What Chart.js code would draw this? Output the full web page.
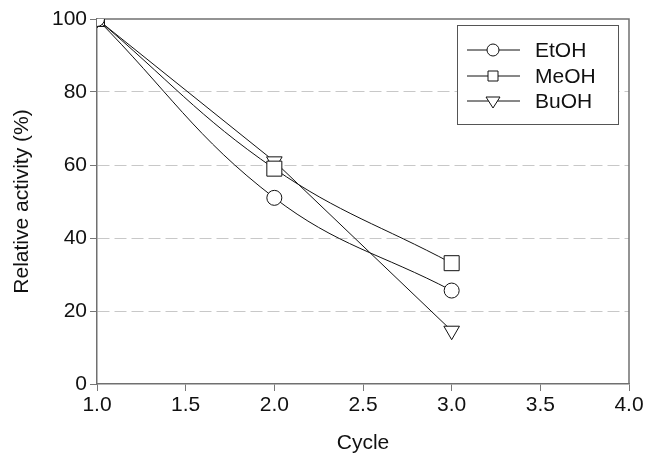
<!DOCTYPE html>
<html>
<head>
<meta charset="utf-8">
<script src="https://cdn.jsdelivr.net/npm/chart.js"></script>
<style>
    body { margin: 0; background: #fff; }
    #wrap { width: 646px; height: 458px; }
</style>
</head>
<body>
<div id="wrap"><canvas id="activity" width="646" height="458"></canvas></div>
<script>
// values
var cycles = [1, 2, 3];
var etoh = [100, 51, 25.6];
var meoh = [100, 59, 33.1];
var buoh = [100, 61, 14.6];
var series_names = ["EtOH", "MeOH", "BuOH"];
var marker_styles = ["circle", "rect", "triangle"];
var x_ticks = [1.0, 1.5, 2.0, 2.5, 3.0, 3.5, 4.0];
var y_ticks = [0, 20, 40, 60, 80, 100];

var FONT = "'Liberation Sans', Arial, sans-serif";
var TXT = "#111";

function to_points(xs, ys) {
    var res = [];
    for (i = 0; i < xs.length; i++) {
        res.push({x: xs[i], y: ys[i]});
    }
    return res;
}

function make_dataset(label, values, style, tension) {
    return {
        label: label,
        data: to_points(cycles, values),
        borderColor: "#111",
        borderWidth: 1,
        backgroundColor: "#fff",
        pointStyle: style,
        pointRadius: style == "circle" ? 7.5 : (style == "rect" ? 10.6 : 9),
        pointRotation: style == "triangle" ? 180 : 0,
        pointBorderColor: "#111",
        pointBackgroundColor: "#fff",
        pointBorderWidth: 1,
        tension: tension,
        fill: false
    };
}

// top and right frame lines
var framePlugin = {
    id: "frame",
    beforeDatasetsDraw: function (chart) {
        var a = chart.chartArea;
        var ctx = chart.ctx;
        ctx.save();
        ctx.strokeStyle = "#707070";
        ctx.lineWidth = 1.5;
        ctx.beginPath();
        ctx.moveTo(a.left, a.top);
        ctx.lineTo(a.right, a.top);
        ctx.lineTo(a.right, a.bottom);
        ctx.stroke();
        ctx.restore();
    }
};

// boxed legend with line through marker
var legendPlugin = {
    id: "boxlegend",
    afterDraw: function (chart) {
        var ctx = chart.ctx;
        var left = 457, top = 25, right = 618, bottom = 124;
        ctx.save();
        ctx.fillStyle = "#fff";
        ctx.fillRect(left, top, right - left, bottom - top);
        ctx.strokeStyle = "#555";
        ctx.lineWidth = 1;
        ctx.strokeRect(left + 0.5, top + 0.5, right - left, bottom - top);
        var rows = [50, 76, 101];
        for (i = 0; i < series_names.length; i++) {
            var y = rows[i];
            var cx = 493;
            ctx.strokeStyle = "#111";
            ctx.lineWidth = 1;
            ctx.beginPath();
            ctx.moveTo(467, y);
            ctx.lineTo(520, y);
            ctx.stroke();
            ctx.fillStyle = "#fff";
            ctx.beginPath();
            if (marker_styles[i] == "circle") {
                ctx.arc(cx, y, 6, 0, Math.PI * 2);
            } else if (marker_styles[i] == "rect") {
                ctx.rect(cx - 5, y - 5, 10, 10);
            } else {
                ctx.moveTo(cx - 7, y - 4);
                ctx.lineTo(cx + 7, y - 4);
                ctx.lineTo(cx, y + 7);
                ctx.closePath();
            }
            ctx.fill();
            ctx.stroke();
            ctx.fillStyle = TXT;
            ctx.font = "21px " + FONT;
            ctx.textBaseline = "middle";
            ctx.fillText(series_names[i], 535, y + 1);
        }
        ctx.restore();
    }
};

var ctx = document.getElementById("activity");

var data = {
    datasets: [
        make_dataset(series_names[0], etoh, marker_styles[0], 0.4),
        make_dataset(series_names[1], meoh, marker_styles[1], 0.4),
        make_dataset(series_names[2], buoh, marker_styles[2], 0)
    ]
};

var option = {
    responsive: false,
    animation: false,
    layout: {padding: {top: 19, right: 17, left: 0, bottom: 0}},
    plugins: {
        legend: {display: false},
        tooltip: {enabled: false}
    },
    scales: {
        x: {
            type: "linear",
            min: 1,
            max: 4,
            afterBuildTicks: function (scale) {
                scale.ticks = x_ticks.map(function (v) { return {value: v}; });
            },
            afterFit: function (scale) { scale.height = 74; },
            ticks: {
                color: TXT,
                font: {family: FONT, size: 21},
                padding: 2,
                maxRotation: 0,
                callback: function (v) { return Number(v).toFixed(1); }
            },
            grid: {
                drawOnChartArea: false,
                tickLength: 7,
                tickColor: "#777",
                tickWidth: 1
            },
            border: {color: "#707070", width: 1.5},
            title: {
                display: true,
                text: "Cycle",
                color: TXT,
                font: {family: FONT, size: 21},
                padding: {top: 0, bottom: 2}
            }
        },
        y: {
            min: 0,
            max: 100,
            afterBuildTicks: function (scale) {
                scale.ticks = y_ticks.map(function (v) { return {value: v}; });
            },
            afterFit: function (scale) { scale.width = 97; },
            ticks: {
                color: TXT,
                font: {family: FONT, size: 21},
                padding: 3
            },
            grid: {
                color: function (c) {
                    if (!c.tick || c.tick.value == 0 || c.tick.value == 100) return "rgba(0,0,0,0)";
                    return "#c8c8c8";
                },
                lineWidth: 1,
                tickLength: 7,
                tickColor: "#777",
                tickWidth: 1,
                tickBorderDash: []
            },
            border: {color: "#707070", width: 1.5, dash: [12, 5]},
            title: {
                display: true,
                text: "Relative activity (%)",
                color: TXT,
                font: {family: FONT, size: 21},
                padding: {top: 10, bottom: 0}
            }
        }
    }
};

var lineChart = new Chart(ctx, {
    type: "line",
    data: data,
    options: option,
    plugins: [framePlugin, legendPlugin]
});
</script>
</body>
</html>
